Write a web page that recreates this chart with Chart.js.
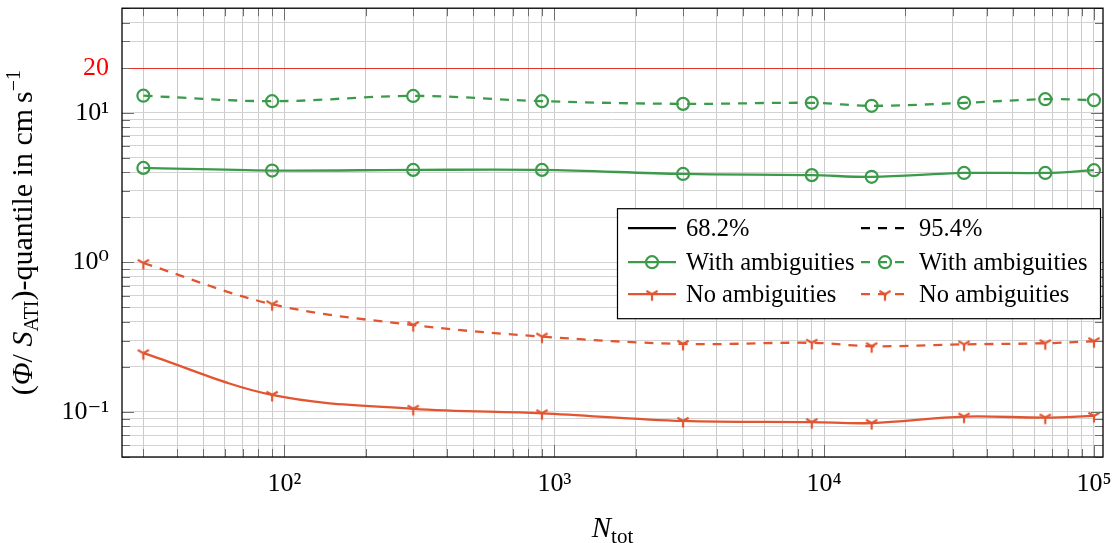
<!DOCTYPE html>
<html>
<head>
<meta charset="utf-8">
<script src="https://cdn.jsdelivr.net/npm/chart.js@4"></script>
<style>
  body { margin: 0; background: #fff; }
  #wrap { width: 1116px; height: 543px; position: relative; }
</style>
</head>
<body>
<div id="wrap"><canvas id="chart"></canvas></div>
<script>
// valeurs
const N_TOT = [30, 90, 300, 900, 3000, 9000, 15000, 33000, 66000, 100000];
const WITH_AMB_68 = [4.28, 4.11, 4.15, 4.15, 3.90, 3.83, 3.73, 3.96, 3.96, 4.13];
const WITH_AMB_95 = [13.0, 11.95, 12.96, 11.95, 11.47, 11.65, 11.13, 11.65, 12.32, 12.14];
const NO_AMB_68 = [0.247, 0.130, 0.105, 0.098, 0.0871, 0.0855, 0.0843, 0.0931, 0.0917, 0.0941];
const NO_AMB_95 = [0.99, 0.525, 0.381, 0.319, 0.285, 0.290, 0.275, 0.283, 0.288, 0.297];
const THRESHOLD = 20;
const X_MIN = 25, X_MAX = 108000;
const Y_MIN = 0.05, Y_MAX = 50;

const GREEN = "#3b9b4b";
const RED = "#e25530";
const FONT = "'Liberation Serif', 'DejaVu Serif', serif";
const DASH = [9, 8];

const SUP = { "-": "\u207B", "0": "\u2070", "1": "\u00B9", "2": "\u00B2", "3": "\u00B3", "4": "\u2074", "5": "\u2075" };

function logTicks(min, max) {
  const out = [];
  for (let e = Math.floor(Math.log10(min)); e <= Math.ceil(Math.log10(max)); e++) {
    for (let m = 1; m <= 9; m++) {
      const v = Number((m * Math.pow(10, e)).toPrecision(6));
      if (v >= min * 0.999 && v <= max * 1.001) out.push(v);
    }
  }
  return out;
}

function isDecade(v) {
  const l = Math.log10(v);
  return Math.abs(l - Math.round(l)) < 1e-9;
}

function decadeLabel(v) {
  const e = String(Math.round(Math.log10(v)));
  return "10" + e.split("").map((c) => SUP[c]).join("");
}

// marqueur "Y" (mercedes star flipped)
function makeStar(color) {
  const c = document.createElement("canvas");
  c.width = 16; c.height = 16;
  const g = c.getContext("2d");
  g.strokeStyle = color;
  g.lineWidth = 2.2;
  g.beginPath();
  g.moveTo(8, 8); g.lineTo(8, 14.5);
  g.moveTo(8, 8); g.lineTo(2.4, 4.8);
  g.moveTo(8, 8); g.lineTo(13.6, 4.8);
  g.stroke();
  return c;
}
const STAR = makeStar(RED);

const pts = (arr) => N_TOT.map((x, i) => ({ x, y: arr[i] }));

const legendOnly = (label, dash) => ({
  label, data: [], borderColor: "#000", borderDash: dash, borderWidth: 2.2, pointStyle: false,
});

const series = (label, arr, color, dash, marker) => ({
  label,
  data: pts(arr),
  borderColor: color,
  backgroundColor: "rgba(0,0,0,0)",
  borderWidth: 2.3,
  borderDash: dash,
  tension: 0.35,
  pointStyle: marker,
  pointRadius: 6,
  pointBorderWidth: 2.2,
  pointBorderColor: color,
  pointBackgroundColor: "rgba(0,0,0,0)",
});

function drawRich(ctx, parts, x, y, align) {
  let w = 0;
  parts.forEach((p) => {
    ctx.font = (p.italic ? "italic " : "") + p.size + "px " + FONT;
    p.w = ctx.measureText(p.t).width;
    w += p.w;
  });
  let cx = align === "center" ? x - w / 2 : x;
  parts.forEach((p) => {
    ctx.font = (p.italic ? "italic " : "") + p.size + "px " + FONT;
    ctx.fillText(p.t, cx, y + (p.dy || 0));
    cx += p.w;
  });
}

const decor = {
  id: "decor",
  beforeDatasetsDraw(chart) {
    // ligne rouge du seuil
    const { ctx, chartArea: ca, scales } = chart;
    const p = Math.round(scales.y.getPixelForValue(THRESHOLD)) + 0.5;
    ctx.save();
    ctx.strokeStyle = "#e8302a";
    ctx.lineWidth = 1.2;
    ctx.beginPath();
    ctx.moveTo(ca.left, p); ctx.lineTo(ca.right, p);
    ctx.stroke();
    ctx.restore();
  },
  afterDatasetsDraw(chart) {
    const { ctx, chartArea: ca, scales } = chart;
    ctx.save();
    ctx.strokeStyle = "#6f6f6f";
    ctx.lineWidth = 1;
    scales.x.ticks.forEach((t) => {
      const p = Math.round(scales.x.getPixelForValue(t.value)) + 0.5;
      const len = isDecade(t.value) ? 12 : 8;
      ctx.beginPath();
      ctx.moveTo(p, ca.bottom); ctx.lineTo(p, ca.bottom - len);
      ctx.moveTo(p, ca.top); ctx.lineTo(p, ca.top + len);
      ctx.stroke();
    });
    scales.y.ticks.forEach((t) => {
      const p = Math.round(scales.y.getPixelForValue(t.value)) + 0.5;
      const len = isDecade(t.value) ? 12 : 8;
      ctx.beginPath();
      ctx.moveTo(ca.left, p); ctx.lineTo(ca.left + len, p);
      ctx.moveTo(ca.right, p); ctx.lineTo(ca.right - len, p);
      ctx.stroke();
    });
    ctx.strokeStyle = "#000";
    ctx.lineWidth = 1.3;
    ctx.strokeRect(ca.left, ca.top, ca.right - ca.left, ca.bottom - ca.top);
    ctx.restore();
  },
  afterDraw(chart) {
    const { ctx, chartArea: ca } = chart;
    ctx.save();
    // légende en deux colonnes
    const bw = 483, bh = 110;
    const bx = ca.right - 3 - bw, by = ca.top + 200;
    ctx.fillStyle = "#fff";
    ctx.fillRect(bx, by, bw, bh);
    ctx.strokeStyle = "#000";
    ctx.lineWidth = 1.2;
    ctx.strokeRect(bx + 0.5, by + 0.5, bw, bh);
    const rows = [20, 54, 86];
    const cols = [11, 244];
    chart.data.datasets.forEach((ds, i) => {
      const sx = bx + cols[i % 2];
      const sy = by + rows[Math.floor(i / 2)];
      ctx.strokeStyle = ds.borderColor;
      ctx.lineWidth = ds.borderWidth;
      ctx.setLineDash(ds.borderDash || []);
      ctx.beginPath();
      ctx.moveTo(sx, sy); ctx.lineTo(sx + 48, sy);
      ctx.stroke();
      ctx.setLineDash([]);
      if (ds.pointStyle === "circle") {
        ctx.lineWidth = ds.pointBorderWidth;
        ctx.beginPath();
        ctx.arc(sx + 24, sy, ds.pointRadius, 0, Math.PI * 2);
        ctx.stroke();
      } else if (ds.pointStyle instanceof HTMLCanvasElement) {
        ctx.drawImage(ds.pointStyle, sx + 24 - 8, sy - 8);
      }
      ctx.fillStyle = "#000";
      ctx.font = "24.5px " + FONT;
      ctx.textBaseline = "middle";
      ctx.textAlign = "left";
      ctx.fillText(ds.label, sx + 58, sy + 1);
    });
    // titres des axes
    ctx.fillStyle = "#000";
    ctx.textBaseline = "alphabetic";
    ctx.textAlign = "left";
    drawRich(ctx, [
      { t: "N", size: 29, italic: true },
      { t: "tot", size: 21, dy: 6 },
    ], (ca.left + ca.right) / 2, 537, "center");
    ctx.translate(32, (ca.top + ca.bottom) / 2);
    ctx.rotate(-Math.PI / 2);
    drawRich(ctx, [
      { t: "(", size: 30 },
      { t: "\u03A6", size: 30, italic: true },
      { t: "/ ", size: 30 },
      { t: "S", size: 30, italic: true },
      { t: "ATI", size: 20, dy: 6 },
      { t: ")-quantile in cm\u2009s", size: 30 },
      { t: "\u22121", size: 20, dy: -12 },
    ], 0, 0, "center");
    ctx.restore();
  },
};

new Chart(document.getElementById("chart"), {
  type: "line",
  data: {
    datasets: [
      legendOnly("68.2%", []),
      legendOnly("95.4%", DASH),
      series("With ambiguities", WITH_AMB_68, GREEN, [], "circle"),
      series("With ambiguities", WITH_AMB_95, GREEN, DASH, "circle"),
      series("No ambiguities", NO_AMB_68, RED, [], STAR),
      series("No ambiguities", NO_AMB_95, RED, DASH, STAR),
    ],
  },
  options: {
    responsive: true,
    maintainAspectRatio: false,
    animation: false,
    layout: { padding: { top: 1, right: 13, left: 0, bottom: 0 } },
    plugins: { legend: { display: false }, tooltip: { enabled: false } },
    scales: {
      x: {
        type: "logarithmic",
        min: X_MIN,
        max: X_MAX,
        afterBuildTicks: (s) => { s.ticks = logTicks(X_MIN, X_MAX).map((v) => ({ value: v })); },
        afterFit: (s) => { s.height = 86; s.paddingLeft = 0; s.paddingRight = 0; },
        ticks: {
          autoSkip: false,
          maxRotation: 0,
          padding: 12,
          color: "#000",
          font: { family: FONT, size: 26 },
          callback: (v) => (isDecade(v) ? decadeLabel(v) : ""),
        },
        grid: { color: "#cbcbcb", lineWidth: 1, drawTicks: false },
        border: { display: false },
      },
      y: {
        type: "logarithmic",
        min: Y_MIN,
        max: Y_MAX,
        afterBuildTicks: (s) => { s.ticks = logTicks(Y_MIN, Y_MAX).map((v) => ({ value: v })); },
        afterFit: (s) => { s.width = 122; s.paddingTop = 0; s.paddingBottom = 0; },
        ticks: {
          autoSkip: false,
          padding: 13,
          font: { family: FONT, size: 26 },
          color: (c) => (c.tick && c.tick.value === THRESHOLD ? "#ff0000" : "#000"),
          callback: (v) => (v === THRESHOLD ? String(THRESHOLD) : isDecade(v) ? decadeLabel(v) : ""),
        },
        grid: {
          color: (c) => (c.tick && c.tick.value === THRESHOLD ? "rgba(0,0,0,0)" : "#d3d3d3"),
          lineWidth: 1,
          drawTicks: false,
        },
        border: { display: false },
      },
    },
  },
  plugins: [decor],
});
</script>
</body>
</html>
